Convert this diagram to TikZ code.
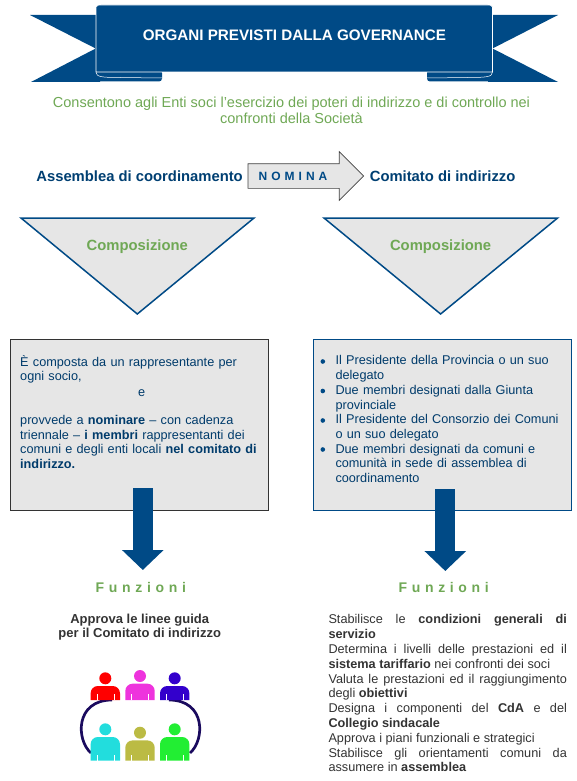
\documentclass[tikz,border=0pt]{standalone}
\usepackage{fontspec}
\setmainfont{Liberation Sans}
\usetikzlibrary{shapes,arrows,arrows.meta,positioning}
\definecolor{navy}{HTML}{004A86}
\definecolor{verde}{HTML}{6FA855}
\definecolor{grigio}{HTML}{E6E6E6}
\definecolor{anello}{HTML}{1A0A5E}
\definecolor{pRosso}{HTML}{FF0000}
\definecolor{pViola}{HTML}{EE33DD}
\definecolor{pBlu}{HTML}{3300CC}
\definecolor{pCiano}{HTML}{22DDDD}
\definecolor{pOliva}{HTML}{BBBB44}
\definecolor{pVerde}{HTML}{22EE33}
\tikzstyle{titolo}=[font=\fontsize{15.2}{18}\selectfont\bfseries,text=white,align=center]
\tikzstyle{sotto}=[font=\fontsize{14.5}{16}\selectfont,text=verde,align=center]
\tikzstyle{organo}=[font=\fontsize{14.8}{16}\selectfont\bfseries,text=navy!85!black,inner sep=0pt]
\tikzstyle{nomina}=[single arrow,draw=black!75,fill=grigio,line width=0.7pt,minimum height=115.6pt,inner xsep=0pt,inner ysep=12pt,single arrow head extend=12pt,single arrow head indent=0pt,outer sep=0pt]
\tikzstyle{tri}=[draw=navy,fill=grigio,line width=1.5pt,line join=miter]
\tikzstyle{comp}=[font=\fontsize{14.8}{16}\selectfont\bfseries,text=verde,inner sep=0pt]
\tikzstyle{scatola}=[rectangle,fill=grigio,line width=0.7pt,minimum width=258.4pt,minimum height=171pt,inner sep=0pt]
\tikzstyle{testo}=[font=\fontsize{12.7}{14.7}\selectfont,text=navy!80!black,align=left,inner sep=0pt]
\tikzstyle{giu}=[line width=20pt,navy,-{Triangle[length=20pt,width=40.5pt]}]
\tikzstyle{funz}=[font=\fontsize{14}{16}\selectfont\bfseries,text=verde,inner sep=0pt]
\tikzstyle{nero}=[font=\fontsize{12.7}{14.8}\selectfont,text=black!80,inner sep=0pt]
\begin{document}
\begin{tikzpicture}[x=1pt,y=-1pt]
\useasboundingbox (0,0) rectangle (577,781);
% nastro
\fill[navy] (30,15) -- (100,15) -- (100,82) -- (31,82) -- (95.7,48.5) -- cycle;
\fill[navy] (558,15) -- (488,15) -- (488,82) -- (558,82) -- (492.5,48.5) -- cycle;
\fill[navy,rounded corners=3pt] (96,70) rectangle (162,81.5);
\fill[navy,rounded corners=3pt] (427,70) rectangle (492.5,81.5);
\draw[white,fill=navy,line width=0.6pt] (96,72) -- (96,7) to[out=70,in=180] (101,5) -- (487.5,5) to[out=0,in=110] (492.5,7) -- (492.5,72) -- cycle;
\draw[white,line width=0.5pt] (96,72) .. controls (96,77) and (102,77.5) .. (120,77.5) -- (162,78);
\draw[white,line width=0.5pt] (492.5,72) .. controls (492.5,77) and (486,77.5) .. (468,77.5) -- (427,78);
\node[titolo] (titolo) at (294.4,35) {ORGANI PREVISTI DALLA GOVERNANCE};
\node[sotto] (sotto) at (291.5,110) {Consentono agli Enti soci l’esercizio dei poteri di indirizzo e di controllo nei\\confronti della Società};
% nomina
\node[nomina,anchor=west] (freccia) at (248,176) {};
\node[font=\fontsize{12}{14}\selectfont\bfseries,text=navy,inner sep=0pt] (nom) at (293,176.5) {N\,\,O\,\,M\,\,I\,\,N\,\,A};
\node[organo,left=5pt of freccia.west] (assemblea) {Assemblea di coordinamento};
\node[organo,right=6pt of freccia.east] (comitato) {Comitato di indirizzo};
% triangoli
\draw[tri] (21,218) -- (254,218) -- (137.3,314) -- cycle;
\draw[tri] (324,218) -- (557.6,218) -- (440.6,314) -- cycle;
\node[comp] (compA) at (137.3,246.5) {Composizione};
\node[comp] (compB) at (440.6,246.5) {Composizione};
% scatole
\node[scatola,draw=black!80] (boxA) at (139.5,424.5) {};
\node[scatola,draw=navy] (boxB) at (442.6,424.5) {};
\node[testo,anchor=north west,text width=245pt] (testoA) at (20,355) {È composta da un rappresentante per\\ogni socio,\\[0.5pt]\hspace*{118pt}e\\[13.6pt]provvede a \textbf{nominare} – con cadenza\\triennale – \textbf{i membri} rappresentanti dei\\comuni e degli enti locali \textbf{nel comitato di}\\\textbf{indirizzo.}};
\node[testo,anchor=north west,text width=232pt] (testoB) at (335.3,355.5) {Il Presidente della Provincia o un suo\\delegato\\Due membri designati dalla Giunta\\provinciale\\Il Presidente del Consorzio dei Comuni\\o un suo delegato\\Due membri designati da comuni e\\comunità in sede di assemblea di\\coordinamento};
\foreach \yy in {361.5,391,420.5,449.5}
  \fill[navy] (322.8,\yy) circle (2.3);
% funzioni
\node[funz] (funA) at (140.8,587) {F\,\,u\,\,n\,\,z\,\,i\,\,o\,\,n\,\,i};
\node[funz] (funB) at (443.7,587) {F\,\,u\,\,n\,\,z\,\,i\,\,o\,\,n\,\,i};
\coordinate (puntaA) at (142.8,570);
\coordinate (puntaB) at (445.3,571);
\draw[giu] (142.8,488) -- (puntaA);
\draw[giu] (445.3,489) -- (puntaB);
\node[nero,font=\fontsize{13}{14}\selectfont\bfseries,align=center] (approva) at (139.7,627.5) {Approva le linee guida\\per il Comitato di indirizzo};
\node[nero,anchor=north west,text width=238.4pt,align=justify] (elenco) at (328.3,614.5) {\hyphenpenalty=10000\tolerance=9999
Stabilisce le \textbf{condizioni generali di servizio}\par
Determina i livelli delle prestazioni ed il \textbf{sistema tariffario} nei confronti dei soci\par
Valuta le prestazioni ed il raggiungimento degli \textbf{obiettivi}\par
Designa i componenti del \textbf{CdA} e del \textbf{Collegio sindacale}\par
Approva i piani funzionali e strategici\par
Stabilisce gli orientamenti comuni da assumere in \textbf{assemblea}\par};
% persone
\draw[line width=2.7pt,color=anello] (91,753) .. controls (76,740) and (75,700) .. (112,700);
\draw[line width=2.7pt,color=anello] (190,753) .. controls (205,740) and (206,700) .. (169,700);
\newcommand{\persona}[4]{%
  \fill[#4] (#1,#2) circle (6);
  \fill[#4] (#1-14.7,#3) -- (#1-14.7,#2+15) to[out=90,in=180] (#1-7.5,#2+7.7) -- (#1+7.5,#2+7.7) to[out=0,in=90] (#1+14.7,#2+15) -- (#1+14.7,#3) -- cycle;
  \draw[white,line width=0.5pt] (#1-8.5,#3) -- (#1-8.5,#3-6) (#1+8.5,#3) -- (#1+8.5,#3-6);
}
\persona{105.3}{678.3}{700}{pRosso}
\persona{140}{676}{700}{pViola}
\persona{174.7}{678.3}{700}{pBlu}
\persona{105.3}{729.3}{760.7}{pCiano}
\persona{140}{732.7}{760.7}{pOliva}
\persona{174.7}{729.3}{760.7}{pVerde}
\end{tikzpicture}
\end{document}
